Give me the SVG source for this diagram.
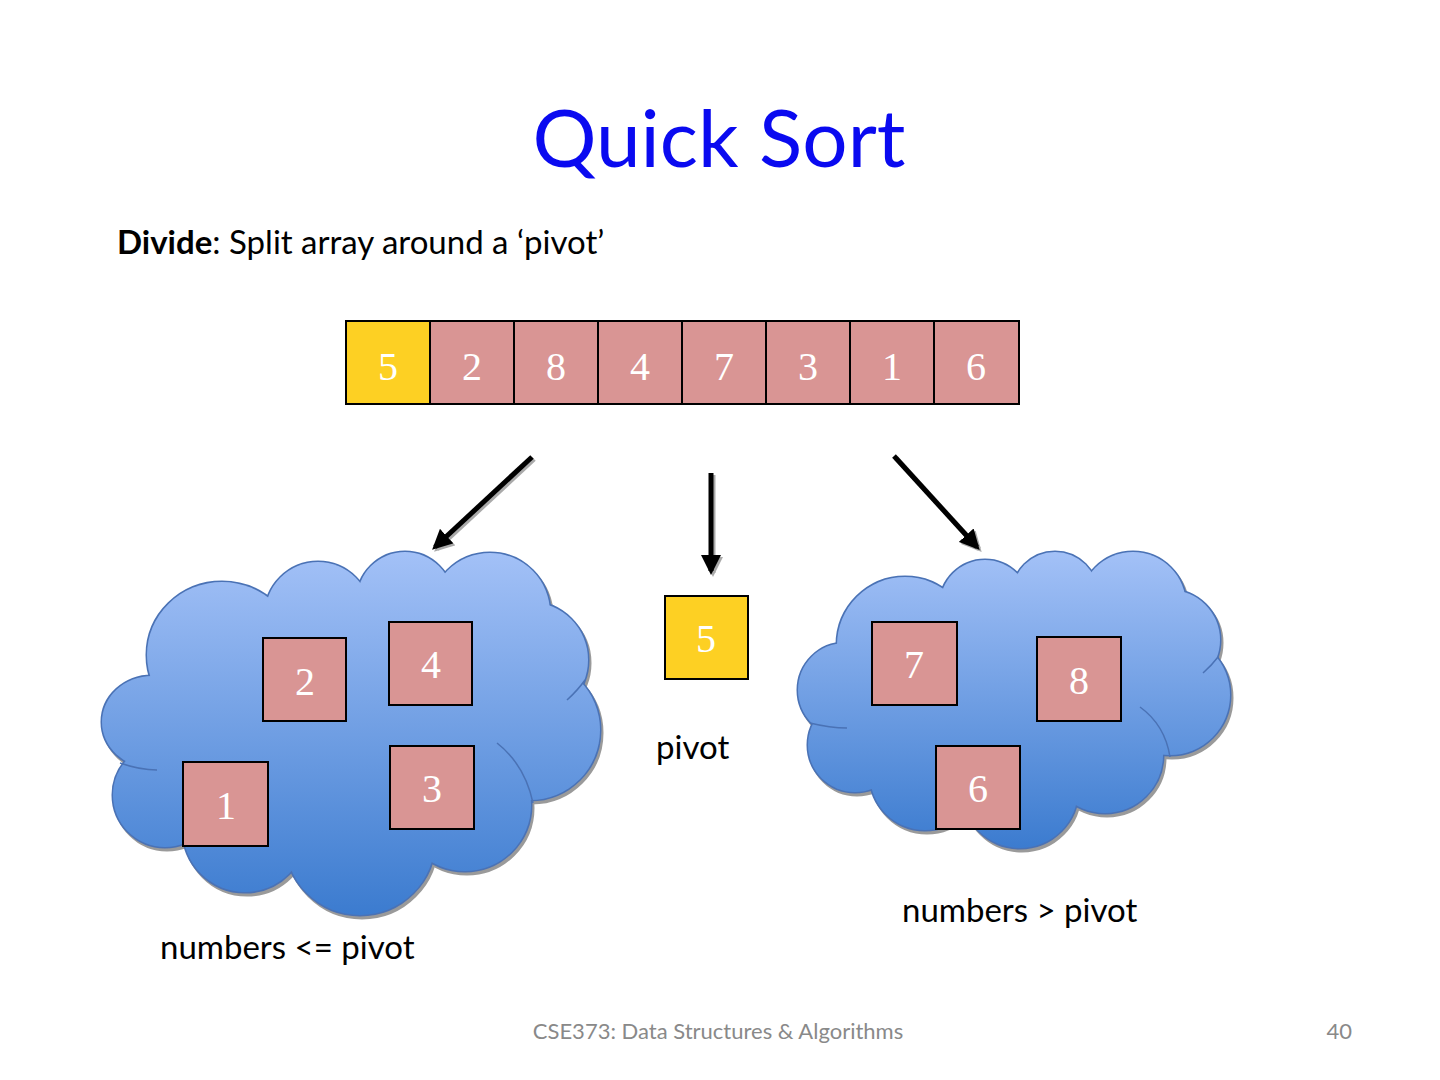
<svg xmlns="http://www.w3.org/2000/svg" width="1440" height="1080" viewBox="0 0 1440 1080">
<defs>
<linearGradient id="gL" gradientUnits="userSpaceOnUse" x1="0" y1="552" x2="0" y2="917">
<stop offset="0" stop-color="#a3c1f7"/><stop offset="1" stop-color="#3b7bcf"/>
</linearGradient>
<linearGradient id="gR" gradientUnits="userSpaceOnUse" x1="0" y1="552" x2="0" y2="850">
<stop offset="0" stop-color="#a3c1f7"/><stop offset="1" stop-color="#3b7bcf"/>
</linearGradient>
<marker id="ah" viewBox="0 0 10 10" refX="8" refY="5" markerWidth="4" markerHeight="4" orient="auto" markerUnits="strokeWidth">
<path d="M0,0 L10,5 L0,10 Z" fill="#000"/>
</marker>
<marker id="ahs" viewBox="0 0 10 10" refX="8" refY="5" markerWidth="4" markerHeight="4" orient="auto" markerUnits="strokeWidth">
<path d="M0,0 L10,5 L0,10 Z" fill="#aaa"/>
</marker>
<g id="cloudL">
<ellipse cx="152" cy="722" rx="50" ry="46"/>
<ellipse cx="222" cy="655" rx="75" ry="73"/>
<circle cx="318" cy="615" r="53"/>
<circle cx="405" cy="600" r="48"/>
<circle cx="490" cy="613" r="60"/>
<circle cx="530" cy="660" r="58"/>
<circle cx="530" cy="730" r="70"/>
<circle cx="465" cy="805" r="66"/>
<circle cx="360" cy="840" r="75"/>
<circle cx="245" cy="830" r="62"/>
<circle cx="165" cy="795" r="52"/>
<ellipse cx="350" cy="720" rx="200" ry="130"/>
</g>
<g id="cloudR">
<circle cx="845" cy="690" r="47"/>
<circle cx="905" cy="645" r="68"/>
<circle cx="985" cy="605" r="45"/>
<circle cx="1055" cy="595" r="43"/>
<circle cx="1133" cy="605" r="53"/>
<circle cx="1170" cy="640" r="50"/>
<circle cx="1170" cy="695" r="60"/>
<circle cx="1105" cy="755" r="58"/>
<circle cx="1020" cy="790" r="58"/>
<circle cx="925" cy="775" r="55"/>
<circle cx="855" cy="745" r="47"/>
<ellipse cx="1010" cy="700" rx="160" ry="100"/>
</g>
</defs>
<style>
.t{font-family:Lato,"Liberation Sans",sans-serif;}
.cell{fill:#d99594;stroke:#000;stroke-width:2;}
.piv{fill:#fdd023;stroke:#000;stroke-width:2;}
.num{font-family:"Liberation Serif","DejaVu Serif",serif;font-size:40px;fill:#fff;text-anchor:middle;}
.lbl{font-family:Lato,"Liberation Sans",sans-serif;font-size:33px;fill:#000;}
.inner{fill:none;stroke:#4a72b5;stroke-width:1.5;}
</style>

<text class="t" x="719" y="167" font-size="80" fill="#0a0af0" text-anchor="middle">Quick Sort</text>
<text class="lbl" x="117" y="254"><tspan font-weight="bold">Divide</tspan>: Split array around a ‘pivot’</text>

<g id="array">
<rect class="cell" x="430" y="321" width="84" height="83"/>
<rect class="cell" x="514" y="321" width="84" height="83"/>
<rect class="cell" x="598" y="321" width="84" height="83"/>
<rect class="cell" x="682" y="321" width="84" height="83"/>
<rect class="cell" x="766" y="321" width="84" height="83"/>
<rect class="cell" x="850" y="321" width="84" height="83"/>
<rect class="cell" x="934" y="321" width="85" height="83"/>
<rect class="piv" x="346" y="321" width="84" height="83" stroke-width="3"/>
<text class="num" x="388" y="380">5</text>
<text class="num" x="472" y="380">2</text>
<text class="num" x="556" y="380">8</text>
<text class="num" x="640" y="380">4</text>
<text class="num" x="724" y="380">7</text>
<text class="num" x="808" y="380">3</text>
<text class="num" x="892" y="380">1</text>
<text class="num" x="976" y="380">6</text>
</g>

<g id="connectors">
<g stroke="#aaa" stroke-width="5" fill="none">
<line x1="534" y1="459" x2="437" y2="549" marker-end="url(#ahs)"/>
<line x1="713" y1="475" x2="713" y2="573" marker-end="url(#ahs)"/>
<line x1="896" y1="458" x2="979" y2="549" marker-end="url(#ahs)"/>
</g>
<g stroke="#000" stroke-width="5" fill="none">
<line x1="532" y1="457" x2="435" y2="547" marker-end="url(#ah)"/>
<line x1="711" y1="473" x2="711" y2="571" marker-end="url(#ah)"/>
<line x1="894" y1="456" x2="977" y2="547" marker-end="url(#ah)"/>
</g>
</g>

<g id="leftCloud">
<use href="#cloudL" transform="translate(2,3)" fill="#9a9a9a" stroke="#9a9a9a" stroke-width="3"/>
<use href="#cloudL" fill="none" stroke="#4a72b5" stroke-width="3"/>
<use href="#cloudL" fill="url(#gL)"/>
<path class="inner" d="M497,743 Q525,765 533,803"/>
<path class="inner" d="M120,763 Q140,770 157,770"/>
<path class="inner" d="M567,700 Q578,690 585,680"/>
</g>
<g id="rightCloud">
<use href="#cloudR" transform="translate(2,3)" fill="#9a9a9a" stroke="#9a9a9a" stroke-width="3"/>
<use href="#cloudR" fill="none" stroke="#4a72b5" stroke-width="3"/>
<use href="#cloudR" fill="url(#gR)"/>
<path class="inner" d="M1140,707 Q1165,725 1170,757"/>
<path class="inner" d="M1203,673 Q1212,665 1218,657"/>
<path class="inner" d="M810,723 Q830,728 847,728"/>
</g>

<g id="box2"><rect class="cell" x="263" y="638" width="83" height="83"/><text class="num" x="305" y="695">2</text></g>
<g id="box4"><rect class="cell" x="389" y="622" width="83" height="83"/><text class="num" x="431" y="678">4</text></g>
<g id="box3"><rect class="cell" x="390" y="746" width="84" height="83"/><text class="num" x="432" y="802">3</text></g>
<g id="box1"><rect class="cell" x="183" y="762" width="85" height="84"/><text class="num" x="226" y="819">1</text></g>
<g id="pivotBox"><rect class="piv" x="665" y="596" width="83" height="83"/><text class="num" x="706" y="652">5</text></g>
<g id="box7"><rect class="cell" x="872" y="622" width="85" height="83"/><text class="num" x="914" y="678">7</text></g>
<g id="box8"><rect class="cell" x="1037" y="637" width="84" height="84"/><text class="num" x="1079" y="694">8</text></g>
<g id="box6"><rect class="cell" x="936" y="746" width="84" height="83"/><text class="num" x="978" y="802">6</text></g>

<text class="lbl" x="656" y="759">pivot</text>
<text class="lbl" x="902" y="922">numbers &gt; pivot</text>
<text class="lbl" x="160" y="959">numbers &lt;= pivot</text>

<text class="t" x="718" y="1039" font-size="22" fill="#898989" text-anchor="middle">CSE373: Data Structures &amp; Algorithms</text>
<text class="t" x="1352" y="1039" font-size="22" fill="#898989" text-anchor="end">40</text>
</svg>
